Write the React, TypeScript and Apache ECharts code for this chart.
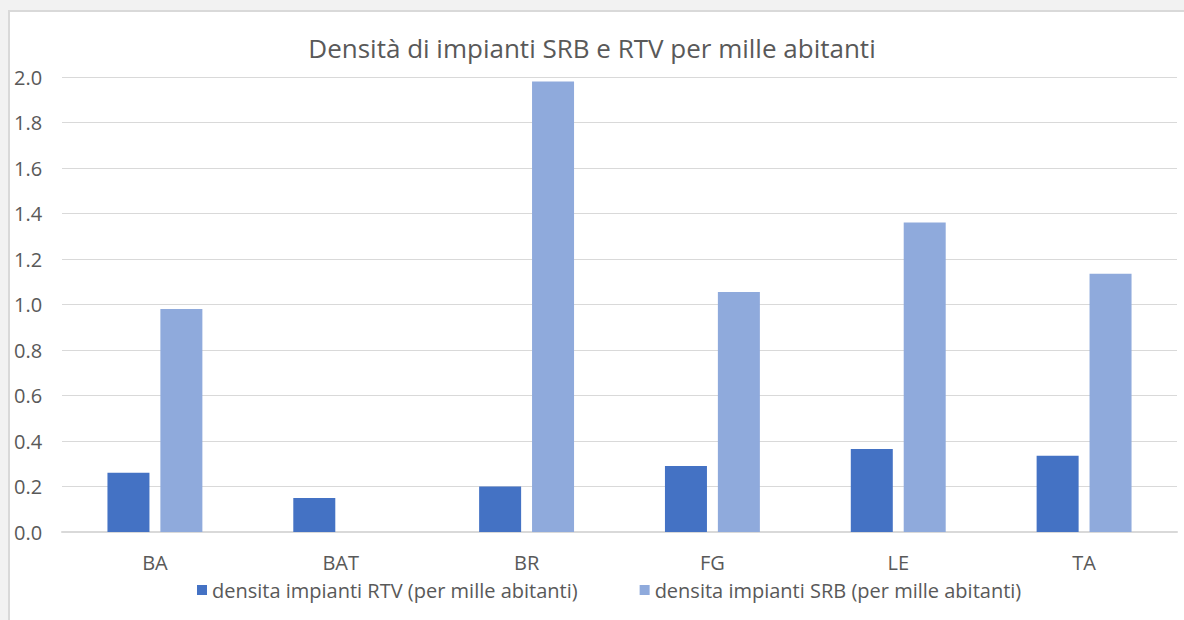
import React, { useEffect, useRef } from "react";
import * as echarts from "echarts";

const categories = ["BA", "BAT", "BR", "FG", "LE", "TA"];
const rtvValues = [0.26, 0.15, 0.2, 0.29, 0.365, 0.335];
const srbValues = [0.98, null, 1.98, 1.055, 1.36, 1.135];
const rtvName = "densita impianti RTV (per mille abitanti)";
const srbName = "densita impianti SRB (per mille abitanti)";
const titleText = "Densità di impianti SRB e RTV per mille abitanti";

const FONT = "'Open Sans', 'Noto Sans', sans-serif";
const TXT = "#595959";

export default function App() {
  const ref = useRef<HTMLDivElement>(null);
  useEffect(() => {
    if (!ref.current) return;
    const chart = echarts.init(ref.current, undefined, { renderer: "svg" });
    chart.setOption({
      animation: false,
      backgroundColor: "#f2f2f2",
      textStyle: { fontFamily: FONT },
      graphic: [
        {
          type: "rect",
          z: -10,
          silent: true,
          shape: { x: 9, y: 11, width: 1180, height: 615 },
          style: { fill: "#ffffff", stroke: "#d9d9d9", lineWidth: 2 },
        },
      ],
      title: {
        text: titleText,
        left: "center",
        top: 30,
        textStyle: { fontFamily: FONT, fontSize: 26, fontWeight: "normal", color: TXT },
      },
      legend: {
        data: [rtvName, srbName],
        bottom: 15,
        left: 192,
        itemWidth: 10,
        itemHeight: 10,
        itemGap: 62,
        icon: "rect",
        textStyle: { fontFamily: FONT, fontSize: 20, color: TXT },
      },
      grid: { left: 62, right: 7, top: 77, bottom: 88, containLabel: false },
      xAxis: {
        type: "category",
        data: categories,
        axisLine: { lineStyle: { color: "#d9d9d9", width: 2 } },
        axisTick: { show: false },
        axisLabel: { fontFamily: FONT, fontSize: 20, color: TXT, margin: 20 },
      },
      yAxis: {
        type: "value",
        min: 0,
        max: 2,
        interval: 0.2,
        axisLine: { show: false },
        axisTick: { show: false },
        splitLine: { lineStyle: { color: "#d9d9d9", width: 1 } },
        axisLabel: {
          fontFamily: FONT,
          fontSize: 20,
          color: TXT,
          align: "left",
          margin: 48,
          formatter: (v: number) => v.toFixed(1),
        },
      },
      series: [
        {
          name: rtvName,
          type: "bar",
          data: rtvValues,
          barWidth: 42,
          barGap: "26%",
          itemStyle: { color: "#4472c4" },
        },
        {
          name: srbName,
          type: "bar",
          data: srbValues,
          barWidth: 42,
          itemStyle: { color: "#8faadc" },
        },
      ],
    });
    return () => chart.dispose();
  }, []);
  return (
    <div style={{ position: "absolute", left: 0, top: 0, width: 1184, height: 620 }}>
      <div ref={ref} style={{ width: 1184, height: 620 }} />
    </div>
  );
}
